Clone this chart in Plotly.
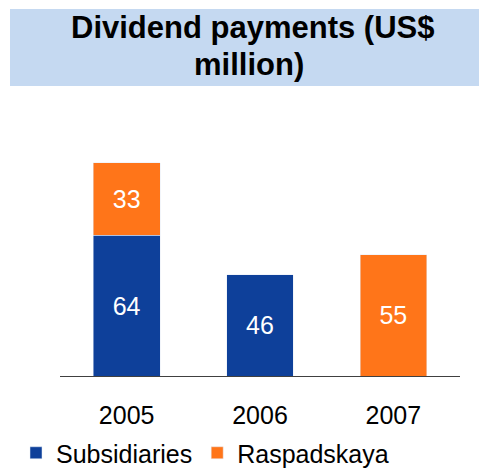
import plotly.graph_objects as go

years = ["2005", "2006", "2007"]
subsidiaries = [64, 46, None]
raspadskaya = [33, None, 55]
title_lines = ["Dividend payments (US$", "million)"]

BLUE = "#0E409A"
ORANGE = "#FF7519"
FONT = "Liberation Sans, Arial, sans-serif"

fig = go.Figure()
fig.add_trace(go.Bar(
    x=years, y=subsidiaries, name="Subsidiaries", marker_color=BLUE,
    text=[("" if v is None else str(v)) for v in subsidiaries],
    textposition="inside", insidetextanchor="middle",
    textfont=dict(color="white", size=25, family=FONT),
    constraintext="none", textangle=0,
))
fig.add_trace(go.Bar(
    x=years, y=raspadskaya, name="Raspadskaya", marker_color=ORANGE,
    text=[("" if v is None else str(v)) for v in raspadskaya],
    textposition="inside", insidetextanchor="middle",
    textfont=dict(color="white", size=25, family=FONT),
    constraintext="none", textangle=0,
))

L, R, T, B = 60, 19, 130, 92
W, H = 479, 468
pw, ph = W - L - R, H - T - B

def px(x):
    return (x - L) / pw

def py(y):
    return (H - B - y) / ph

fig.add_shape(type="rect", xref="paper", yref="paper",
              x0=px(10), x1=px(479), y0=py(86), y1=py(9),
              fillcolor="#C5D9F1", line_width=0, layer="below")
fig.add_annotation(text="<b>%s</b>" % title_lines[0], xref="paper", yref="paper",
                   x=px(252), y=py(27), xanchor="center", yanchor="middle",
                   showarrow=False, font=dict(size=31, color="black", family=FONT))
fig.add_annotation(text="<b>%s</b>" % title_lines[1], xref="paper", yref="paper",
                   x=px(249), y=py(64), xanchor="center", yanchor="middle",
                   showarrow=False, font=dict(size=31, color="black", family=FONT))

fig.update_layout(
    width=W, height=H,
    margin=dict(l=L, r=R, t=T, b=B, pad=0, autoexpand=False),
    barmode="stack", bargap=0.5,
    plot_bgcolor="white", paper_bgcolor="white",
    font=dict(family=FONT, color="black"),
    showlegend=True,
    legend=dict(orientation="h", x=px(16), y=py(453), xanchor="left", yanchor="middle",
                font=dict(size=25, family=FONT, color="black"),
                itemclick=False, traceorder="normal", bgcolor="rgba(0,0,0,0)"),
    xaxis=dict(type="category", range=[-0.5, 2.5], showline=True, linecolor="#404040",
               linewidth=1, ticks="", showgrid=False, tickfont=dict(size=25, family=FONT),
               ticklabelstandoff=17, fixedrange=True),
    yaxis=dict(range=[0, 111.8], visible=False, showgrid=False, fixedrange=True),
)

fig.write_html("out.html", config={"displayModeBar": False},
               post_script="document.body.style.margin='0';document.body.style.overflow='hidden';")
